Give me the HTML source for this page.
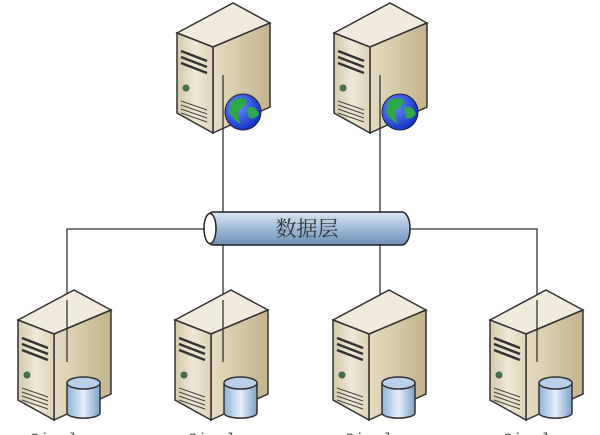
<!DOCTYPE html>
<html><head><meta charset="utf-8"><style>
html,body{margin:0;padding:0;background:#fff;width:600px;height:435px;overflow:hidden}
</style></head><body>
<svg width="600" height="435" viewBox="0 0 600 435" xmlns="http://www.w3.org/2000/svg">
<defs>
<linearGradient id="front" x1="0" y1="0" x2="1" y2="0">
<stop offset="0" stop-color="#d4c9aa"/><stop offset="0.5" stop-color="#eee8d5"/><stop offset="1" stop-color="#ddd3b8"/></linearGradient>
<linearGradient id="side" x1="0" y1="0" x2="1" y2="0">
<stop offset="0" stop-color="#e6dcc2"/><stop offset="1" stop-color="#c2b38c"/></linearGradient>
<linearGradient id="pipe" x1="0" y1="0" x2="0" y2="1">
<stop offset="0" stop-color="#d9e6f2"/><stop offset="0.5" stop-color="#9fbad6"/><stop offset="1" stop-color="#6d8fb5"/></linearGradient>
<linearGradient id="cyl" x1="0" y1="0" x2="1" y2="0">
<stop offset="0" stop-color="#8fb3d8"/><stop offset="0.5" stop-color="#e4eef8"/><stop offset="1" stop-color="#7fa3c9"/></linearGradient>
<radialGradient id="globe" cx="0.35" cy="0.35" r="0.7">
<stop offset="0" stop-color="#6a8cff"/><stop offset="1" stop-color="#1030c0"/></radialGradient>
<g id="srv">
<polygon points="0,30 56,0 93,20 36,44" fill="#f0ebdc" stroke="#333" stroke-width="1.5"/>
<polygon points="36,44 93,20 93,104 36,130" fill="url(#side)" stroke="#333" stroke-width="1.5"/>
<polygon points="0,30 36,44 36,130 0,110" fill="url(#front)" stroke="#333" stroke-width="1.5"/>
<path d="M4,48 L30,58 M4,54 L30,64 M4,60 L30,70" stroke="#333" stroke-width="2.5"/>
<circle cx="9" cy="85" r="3" fill="#3a7a4a" stroke="#555"/>
<path d="M4,98 L30,107 M4,102 L30,111 M4,106 L30,115 M4,110 L30,119" stroke="#444" stroke-width="1"/>
</g>
<g id="db">
<path d="M0,6 L0,36 A16,5 0 0 0 33,36 L33,6" fill="url(#cyl)" stroke="#333" stroke-width="1.5"/>
<ellipse cx="16.5" cy="6" rx="16.5" ry="6" fill="#b9d0ea" stroke="#333" stroke-width="1.5"/>
</g>
<g id="globe1">
<circle r="18" fill="url(#globe)" stroke="#223" stroke-width="1"/>
<path d="M-12,-10 Q-4,-16 4,-12 Q2,-4 -4,-2 Q-6,6 -2,12 Q-10,8 -14,0 Z" fill="#2fa84a"/>
<path d="M4,-4 Q12,-8 16,2 Q12,8 6,6 Z" fill="#2fa84a"/>
</g>
</defs>
<g stroke="#333" stroke-width="1.3" fill="none">
<polyline points="67,360 67,229 205,229"/>
<polyline points="537,362 537,229 410,229"/>
</g>
<use href="#srv" x="177" y="3"/>
<use href="#srv" x="334" y="3"/>
<line x1="223" y1="75" x2="223" y2="215" stroke="#333" stroke-width="1.3"/>
<line x1="380" y1="75" x2="380" y2="215" stroke="#333" stroke-width="1.3"/>
<use href="#globe1" x="243" y="112"/>
<use href="#globe1" x="400" y="112"/>
<g stroke="#333" stroke-width="1.3">
<line x1="223" y1="245" x2="223" y2="300"/>
<line x1="380" y1="245" x2="380" y2="300"/>
</g>
<rect x="205" y="212" width="205" height="33" rx="8" ry="16" fill="url(#pipe)" stroke="#222" stroke-width="1.5"/>
<ellipse cx="210" cy="228.5" rx="6" ry="15" fill="#fff" stroke="#222" stroke-width="1.5"/>
<text x="307" y="236" text-anchor="middle" font-family="'Liberation Serif','Noto Serif CJK SC',serif" font-size="21" fill="#333">数据层</text>
<use href="#srv" x="18" y="290"/>
<use href="#srv" x="175" y="290"/>
<use href="#srv" x="333" y="290"/>
<use href="#srv" x="490" y="290"/>
<g stroke="#333" stroke-width="1.3">
<line x1="67" y1="300" x2="67" y2="362"/>
<line x1="223" y1="300" x2="223" y2="362"/>
<line x1="537" y1="300" x2="537" y2="362"/>
</g>
<use href="#db" x="67" y="377"/>
<use href="#db" x="224" y="377"/>
<use href="#db" x="382" y="377"/>
<use href="#db" x="539" y="377"/>
<g font-family="'Liberation Mono',monospace" font-size="16" fill="#555">
<text x="30" y="444">Single</text>
<text x="188" y="444">Single</text>
<text x="345" y="444">Single</text>
<text x="503" y="444">Single</text>
</g>
</svg>
</body></html>
